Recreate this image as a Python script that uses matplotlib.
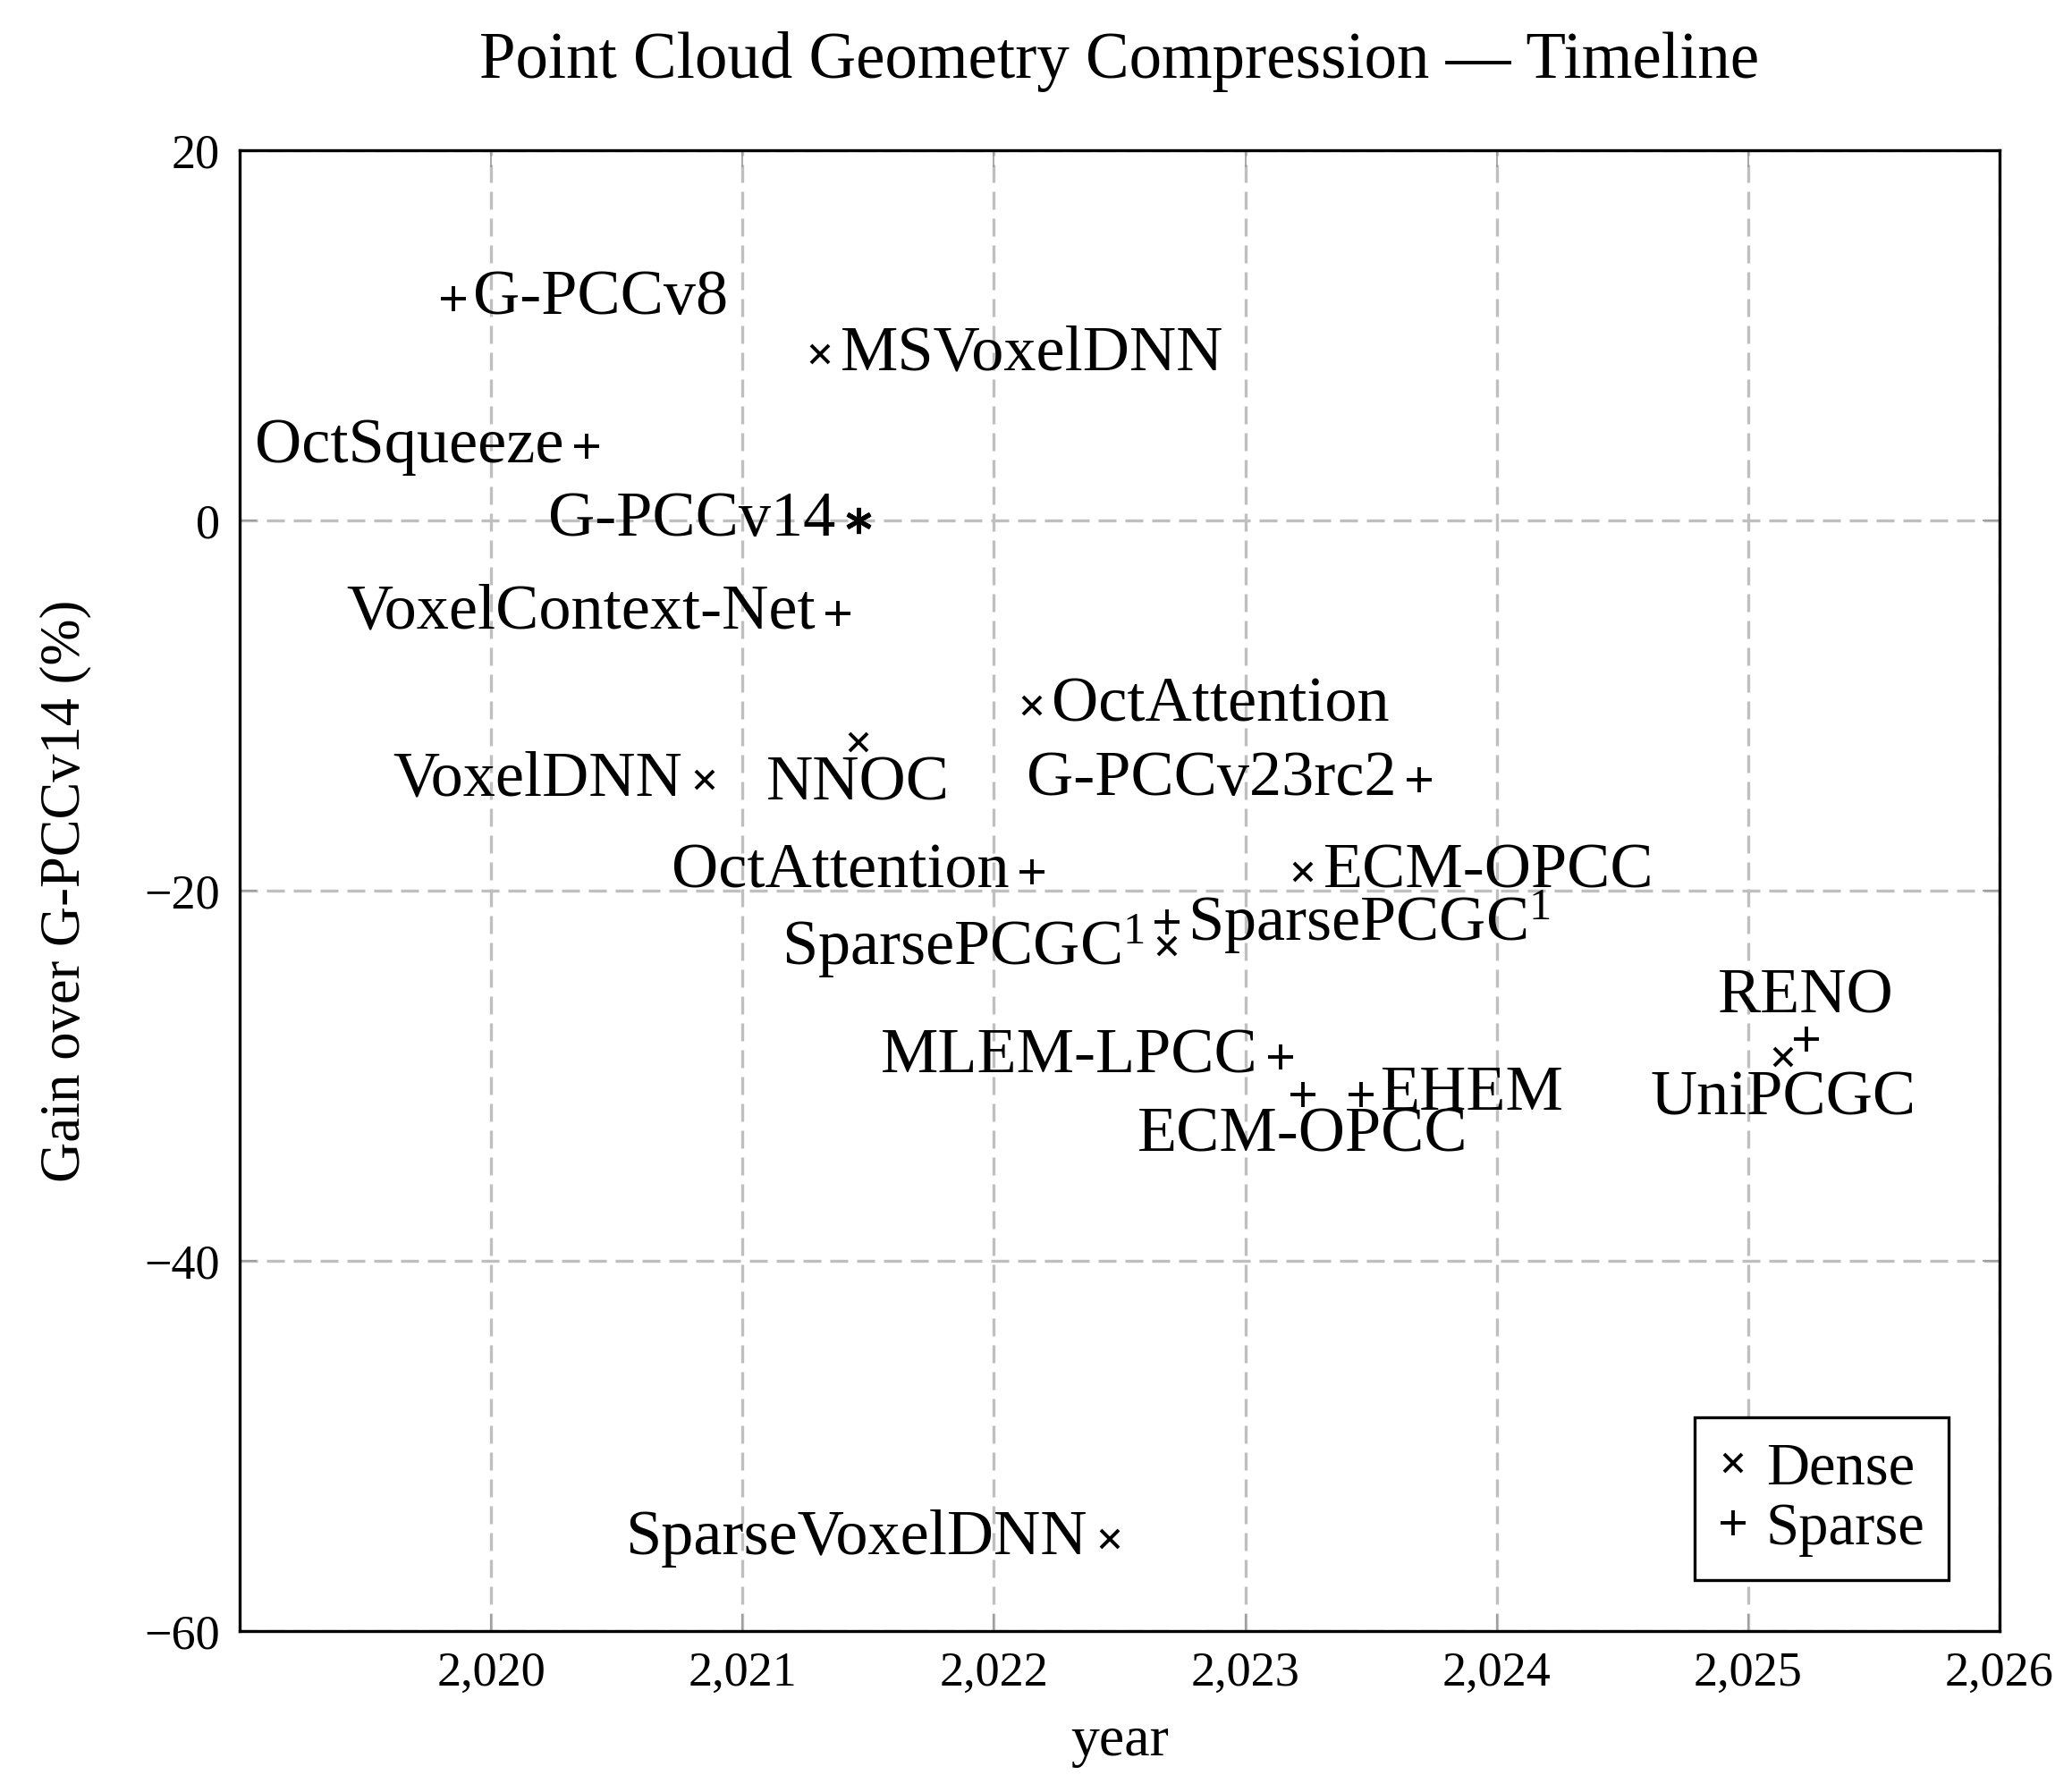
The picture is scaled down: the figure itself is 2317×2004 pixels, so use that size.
import matplotlib
matplotlib.use('Agg')
import matplotlib.pyplot as plt
from matplotlib.lines import Line2D
from matplotlib.ticker import FuncFormatter, FixedLocator

plt.rcParams['font.family'] = ['Liberation Serif', 'DejaVu Serif']
plt.rcParams['mathtext.fontset'] = 'custom'
plt.rcParams['mathtext.rm'] = 'Liberation Serif'
plt.rcParams['mathtext.it'] = 'Liberation Serif:italic'

# dense point clouds
dense_names = ['MSVoxelDNN', 'OctAttention', 'NNOC', 'VoxelDNN', 'ECM-OPCC',
               'SparsePCGC$^1$', 'UniPCGC', 'SparseVoxelDNN']
dense_year = [2021.31, 2022.15, 2021.46, 2020.85, 2023.23, 2022.69, 2025.14, 2022.46]
dense_gain = [9.0, -10.0, -12.0, -14.0, -19.0, -23.0, -29.0, -55.0]

# sparse point clouds
sparse_names = ['G-PCCv8', 'OctSqueeze', 'VoxelContext-Net', 'G-PCCv23rc2',
                'OctAttention', 'SparsePCGC$^1$', 'MLEM-LPCC', 'ECM-OPCC',
                'EHEM', 'RENO']
sparse_year = [2019.85, 2020.38, 2021.38, 2023.69, 2022.15, 2022.69, 2023.14,
               2023.23, 2023.46, 2025.23]
sparse_gain = [12.0, 4.0, -5.0, -14.0, -19.0, -21.7, -29.0, -31.0, -31.0, -28.0]

# anchor
ref_name = 'G-PCCv14'
ref_year = 2021.46
ref_gain = 0.0

x_ticks = [2020, 2021, 2022, 2023, 2024, 2025, 2026]
y_ticks = [-60, -40, -20, 0, 20]

# where each label sits relative to its mark
dense_side = ['r', 'r', 'b', 'l', 'r', 'l', 'b', 'l']
sparse_side = ['r', 'l', 'l', 'l', 'l', 'r', 'l', 'b', 'r', 'a']

LBL = 52
TCK = 39

fig = plt.figure(figsize=(23.17, 20.04), dpi=100)
ax = fig.add_axes([268 / 2317, 1 - 1824 / 2004, (2236 - 268) / 2317, (1824 - 168) / 2004])

ax.set_xlim(2019, 2026)
ax.set_ylim(-60, 20)
ax.xaxis.set_major_locator(FixedLocator(x_ticks))
ax.yaxis.set_major_locator(FixedLocator(y_ticks))
ax.xaxis.set_major_formatter(FuncFormatter(lambda v, p: f'{int(round(v)):,}'))
ax.yaxis.set_major_formatter(FuncFormatter(lambda v, p: f'{int(round(v))}'.replace('-', '\u2212')))

ax.grid(True, color='#bfbfbf', linewidth=2.4, linestyle=(0, (6, 3)))
ax.set_axisbelow(True)
for s in ax.spines.values():
    s.set_linewidth(2.4)
ax.tick_params(direction='in', length=14, width=1.2, color='#999999',
               top=True, right=True, labelsize=TCK, pad=16)

xmk = dict(linestyle='none', color='black', marker='x', markersize=14.5, markeredgewidth=2.8)
pmk = dict(linestyle='none', color='black', marker='+', markersize=20, markeredgewidth=2.8)
ax.plot(dense_year, dense_gain, **xmk)
ax.plot(sparse_year, sparse_gain, **pmk)
ax.plot([ref_year], [ref_gain], marker=(6, 2, 0), linestyle='none', color='black',
        markersize=21, markeredgewidth=3.6)

def put(name, x, y, side):
    off = {'r': (16, 0, 'left', 'center'), 'l': (-18, 0, 'right', 'center'),
           'b': (0, -10, 'center', 'top'), 'a': (0, 10, 'center', 'bottom')}[side]
    ax.annotate(name, (x, y), xytext=off[:2], textcoords='offset points',
                ha=off[2], va=off[3], fontsize=LBL)

for n, x, y, s in zip(dense_names, dense_year, dense_gain, dense_side):
    put(n, x, y, s)
for n, x, y, s in zip(sparse_names, sparse_year, sparse_gain, sparse_side):
    put(n, x, y, s)
put(ref_name, ref_year, ref_gain, 'l')

ax.set_title('Point Cloud Geometry Compression \u2014 Timeline', fontsize=LBL + 0.5, pad=58)
ax.set_xlabel('year', fontsize=46, labelpad=16)
ax.set_ylabel('Gain over G-PCCv14 (%)', fontsize=45, labelpad=42)

handles = [Line2D([], [], **xmk), Line2D([], [], **pmk)]
leg = ax.legend(handles, ['Dense', 'Sparse'], loc='lower right', fontsize=48,
                frameon=True, fancybox=False, edgecolor='black', framealpha=1,
                handlelength=0.5, handletextpad=0.3, labelspacing=0.1,
                borderpad=0.4, borderaxespad=0.85)
leg.get_frame().set_linewidth(2.4)

fig.savefig('out.png', dpi=100)
